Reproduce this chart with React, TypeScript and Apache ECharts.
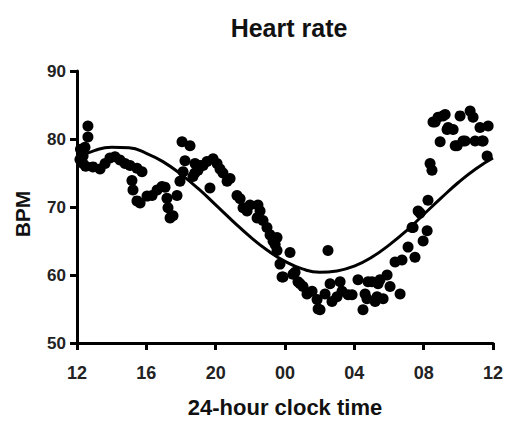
import React, { useEffect, useRef } from "react";
import * as echarts from "echarts";

// Hours since 12:00 (0 = 12:00, 24 = 12:00 next day)
const hours: number[] = [
  0.17, 0.2, 0.35, 0.35, 0.46, 0.5, 0.63, 0.63, 0.92, 1.33, 1.62, 1.9, 2.19, 2.48, 2.77, 3.06, 3.17, 3.23, 3.46, 3.46,
  3.64, 3.75, 4.04, 4.33, 4.62, 4.9, 5.08, 5.19, 5.25, 5.37, 5.54, 5.77, 5.94, 6.06, 6.12, 6.23, 6.52, 6.69, 6.8, 6.81,
  6.98, 7.1, 7.27, 7.5, 7.67, 7.85, 8.08, 8.25, 8.42, 8.66, 8.83, 9.23, 9.41, 9.58, 9.81, 9.98, 10.39, 10.44, 10.56, 10.73,
  10.96, 11.14, 11.31, 11.43, 11.54, 11.54, 11.71, 11.83, 11.89, 12.29, 12.46, 12.58, 12.75, 12.87, 13.04, 13.27, 13.56, 13.85, 13.91, 14.02,
  14.31, 14.48, 14.6, 14.71, 15.0, 15.18, 15.29, 15.64, 15.87, 16.21, 16.5, 16.62, 16.73, 16.79, 17.02, 17.2, 17.31, 17.37, 17.48, 17.66,
  17.89, 18.06, 18.35, 18.64, 18.75, 19.1, 19.33, 19.39, 19.5, 19.68, 19.79, 19.97, 20.2, 20.25, 20.37, 20.48, 20.54, 20.66, 20.83, 20.95,
  21.12, 21.24, 21.35, 21.41, 21.7, 21.82, 21.93, 22.1, 22.27, 22.39, 22.68, 22.85, 22.97, 23.25, 23.37, 23.43, 23.66, 23.72,
];

// Heart rate (BPM) for each hour above
const bpm: number[] = [
  77.0, 78.5, 77.5, 76.4, 78.8, 76.0, 81.9, 80.3, 75.9, 75.6, 76.4, 77.2, 77.4, 76.9, 76.4, 76.1, 73.9, 72.5, 75.7, 70.9,
  70.6, 75.2, 71.6, 71.7, 72.5, 73.0, 72.9, 71.3, 69.9, 68.4, 68.7, 71.7, 73.8, 79.6, 75.2, 76.8, 79.0, 74.5, 75.0, 76.4,
  75.4, 76.1, 76.1, 76.7, 72.8, 77.1, 76.4, 75.6, 75.0, 73.8, 74.2, 71.7, 71.2, 69.9, 69.4, 70.3, 68.4, 70.3, 69.4, 68.0,
  67.0, 65.9, 65.0, 64.5, 63.6, 65.5, 61.6, 59.7, 59.7, 63.3, 60.1, 60.4, 59.0, 58.7, 58.3, 57.2, 57.6, 56.4, 55.0, 54.9,
  57.2, 63.6, 58.7, 56.1, 56.8, 59.0, 57.6, 57.1, 57.1, 59.3, 54.9, 57.2, 56.5, 59.0, 59.0, 56.1, 56.8, 58.7, 59.3, 56.5,
  60.0, 58.3, 61.9, 57.2, 62.2, 64.1, 67.0, 67.0, 62.6, 69.4, 69.1, 65.0, 66.5, 71.0, 76.4, 75.4, 82.5, 82.5, 83.2, 79.6,
  83.4, 83.6, 81.4, 81.7, 81.4, 79.0, 79.0, 83.4, 79.7, 79.7, 84.1, 83.2, 79.7, 81.7, 79.7, 79.7, 77.5, 81.9,
];

// Fitted 24-h cosine curve at each hour
const fitHours: number[] = [0, 1, 2, 3, 4, 5, 6, 7, 8, 9, 10, 11, 12, 13, 14, 15, 16, 17, 18, 19, 20, 21, 22, 23, 24];
const fitBpm: number[] = [
  77.2, 78.3, 78.8, 78.7, 77.9, 76.6, 74.8, 72.7, 70.3, 67.9, 65.6, 63.6, 62.0, 60.9, 60.4, 60.6, 61.3, 62.6, 64.4, 66.5,
  68.9, 71.3, 73.6, 75.6, 77.2,
];

const xTickLabels: string[] = ["12", "16", "20", "00", "04", "08", "12"];

export default function App() {
  const ref = useRef<HTMLDivElement>(null);
  useEffect(() => {
    if (!ref.current) return;
    const chart = echarts.init(ref.current, undefined, { renderer: "svg" });
    const font = "Liberation Sans, Arial, sans-serif";
    chart.setOption({
      animation: false,
      backgroundColor: "#ffffff",
      title: {
        text: "Heart rate",
        left: 284,
        textAlign: "center",
        top: 10,
        textStyle: { fontFamily: font, fontSize: 25, fontWeight: "bold", color: "#111" },
      },
      grid: { left: 77, right: 14, top: 71, bottom: 76 },
      xAxis: {
        type: "value",
        min: 0,
        max: 24,
        interval: 4,
        name: "24-hour clock time",
        nameLocation: "middle",
        nameGap: 53,
        nameTextStyle: { fontFamily: font, fontSize: 22, fontWeight: "bold", color: "#111" },
        axisLine: { show: true, lineStyle: { color: "#000", width: 3 } },
        axisTick: { show: true, length: 7, lineStyle: { color: "#000", width: 3 } },
        axisLabel: {
          margin: 21,
          fontFamily: font,
          fontSize: 18,
          fontWeight: "bold",
          color: "#222",
          formatter: (v: number) => xTickLabels[Math.round(v / 4)] ?? "",
        },
        splitLine: { show: false },
      },
      yAxis: {
        type: "value",
        min: 50,
        max: 90,
        interval: 10,
        name: "BPM",
        nameLocation: "middle",
        nameGap: 44,
        nameTextStyle: { fontFamily: font, fontSize: 21, fontWeight: "bold", color: "#111", padding: [0, 14, 0, 0] },
        axisLine: { show: true, lineStyle: { color: "#000", width: 3 } },
        axisTick: { show: true, length: 7, lineStyle: { color: "#000", width: 3 } },
        axisLabel: { margin: 11, fontFamily: font, fontSize: 17, fontWeight: "bold", color: "#222" },
        splitLine: { show: false },
      },
      series: [
        {
          type: "scatter",
          data: hours.map((h, i) => [h, bpm[i]]),
          symbol: "circle",
          symbolSize: 11,
          itemStyle: { color: "#000", opacity: 1 },
          z: 3,
        },
        {
          type: "line",
          data: fitHours.map((h, i) => [h, fitBpm[i]]),
          smooth: true,
          showSymbol: false,
          symbol: "none",
          lineStyle: { color: "#000", width: 3 },
          z: 4,
        },
      ],
    });
    return () => chart.dispose();
  }, []);
  return <div ref={ref} style={{ width: 507, height: 423, position: "absolute", left: 0, top: 0 }} />;
}
